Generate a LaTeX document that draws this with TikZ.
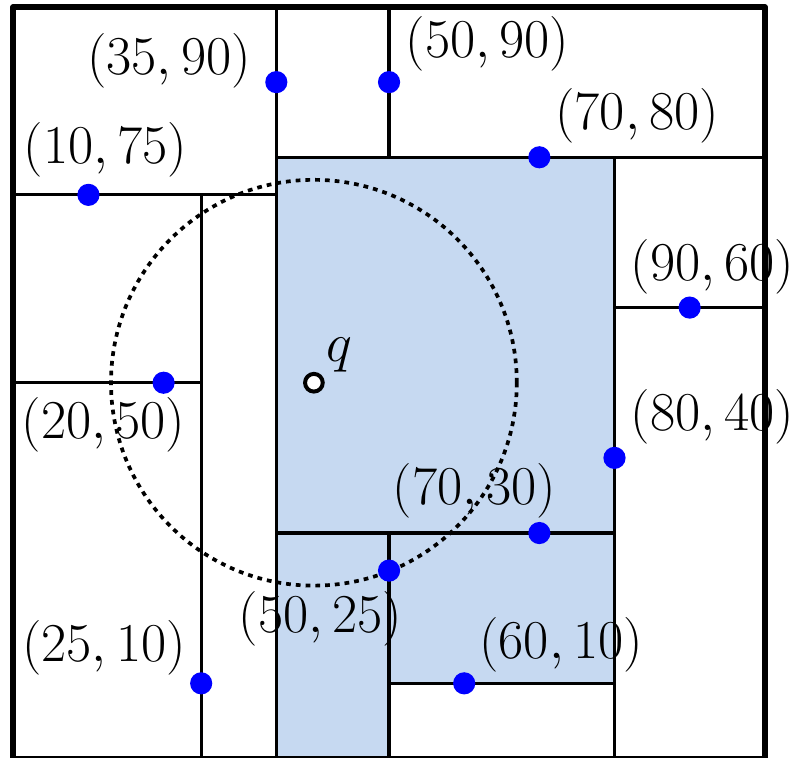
\documentclass[tikz,border=0pt]{standalone}
\usepackage{amsmath}
\usetikzlibrary{positioning}
\definecolor{cellblue}{RGB}{198,217,241}
\tikzset{
  split/.style={line width=1.2pt},
  frame/.style={line width=2.2pt, line join=round},
  pt/.style={circle, fill=blue, inner sep=0pt, minimum size=8.4pt},
  qpt/.style={circle, draw=black, fill=white, line width=1.5pt, inner sep=0pt, minimum size=6.7pt},
  lbl/.style={font=\fontsize{21.6}{26}\selectfont, inner sep=0pt},
  queryball/.style={line width=1.4pt, dash pattern=on 1.8pt off 1.9pt}
}
\begin{document}
\begin{tikzpicture}[x=1mm, y=1mm]
  \useasboundingbox (-1.77,0.07) rectangle (104.55,100.93);
  % corners and split ends
  \coordinate (sw) at (0,0);
  \coordinate (ne) at (100,100);
  \coordinate (x35b) at (35,0);
  \coordinate (x35t) at (35,100);
  \coordinate (y75l) at (0,75);
  \coordinate (y75r) at (35,75);
  \coordinate (x25b) at (25,0);
  \coordinate (x25t) at (25,75);
  \coordinate (y50l) at (0,50);
  \coordinate (y50r) at (25,50);
  \coordinate (y80l) at (35,80);
  \coordinate (y80r) at (100,80);
  \coordinate (x50t) at (50,100);
  \coordinate (x50m) at (50,80);
  \coordinate (x80t) at (80,80);
  \coordinate (x80b) at (80,0);
  \coordinate (y60l) at (80,60);
  \coordinate (y60r) at (100,60);
  \coordinate (y30l) at (35,30);
  \coordinate (y30r) at (80,30);
  \coordinate (x50u) at (50,30);
  \coordinate (x50b) at (50,0);
  \coordinate (y10l) at (50,10);
  \coordinate (y10r) at (80,10);
  % region reached by the query
  \fill[cellblue] (x35b) -- (y80l) -- (x80t) -- (y10r) -- (y10l) -- (x50b) -- cycle;
  % splitting lines
  \draw[split] (x35b) to (x35t);
  \draw[split] (y75l) to (y75r);
  \draw[split] (x25b) to (x25t);
  \draw[split] (y50l) to (y50r);
  \draw[split] (y80l) to (y80r);
  \draw[split] (x50m) to (x50t);
  \draw[split] (x80b) to (x80t);
  \draw[split] (y60l) to (y60r);
  \draw[split] (y30l) to (y30r);
  \draw[split] (x50b) to (x50u);
  \draw[split] (y10l) to (y10r);
  \draw[frame] (sw) rectangle (ne);
  % labels
  \node[lbl] (l35) at (20.72,92.81) {$(35,90)$};
  \node[lbl] (l50) at (63.10,95.08) {$(50,90)$};
  \node[lbl] (l70) at (83.00,85.50) {$(70,80)$};
  \node[lbl] (l10) at (12.27,80.97) {$(10,75)$};
  \node[lbl] (l90) at (93.04,65.40) {$(90,60)$};
  \node[lbl] (l20) at (12.00,44.40) {$(20,50)$};
  \node[lbl] (l80) at (93.04,45.50) {$(80,40)$};
  \node[lbl] (l7030) at (61.37,35.60) {$(70,30)$};
  \node[lbl] (l5025) at (40.88,18.63) {$(50,25)$};
  \node[lbl] (l25) at (12.07,14.77) {$(25,10)$};
  \node[lbl] (l60) at (72.90,15.10) {$(60,10)$};
  % query range
  \draw[queryball] (40,50) circle[radius=27];
  % points
  \node[pt] (p35) at (35,90) {};
  \node[pt] (p50) at (50,90) {};
  \node[pt] (p70) at (70,80) {};
  \node[pt] (p10) at (10,75) {};
  \node[pt] (p90) at (90,60) {};
  \node[pt] (p20) at (20,50) {};
  \node[pt] (p80) at (80,40) {};
  \node[pt] (p7030) at (70,30) {};
  \node[pt] (p5025) at (50,25) {};
  \node[pt] (p25) at (25,10) {};
  \node[pt] (p60) at (60,10) {};
  \node[qpt] (q) at (40,50) {};
  \node[lbl, anchor=base west] (ql) at (41.6,52.8) {$q$};
\end{tikzpicture}
\end{document}
